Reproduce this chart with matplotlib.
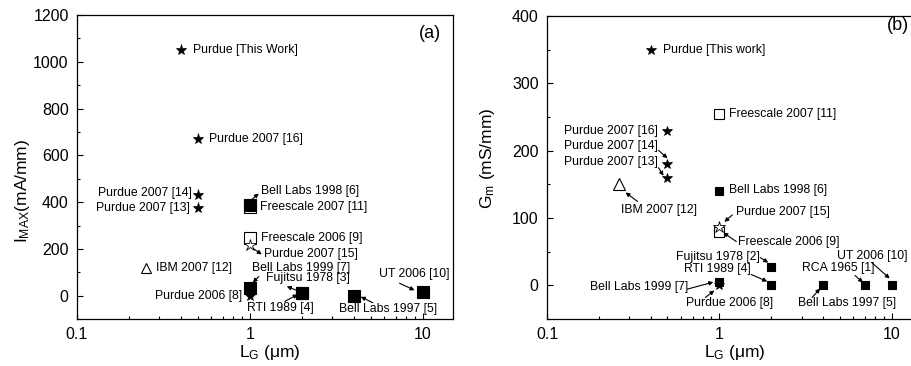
import matplotlib
matplotlib.use('Agg')
import matplotlib.pyplot as plt
from matplotlib.ticker import FixedLocator, FixedFormatter, MultipleLocator, LogLocator, NullFormatter
from matplotlib.transforms import offset_copy

plt.rcParams['font.family'] = ['Liberation Sans', 'DejaVu Sans']
plt.rcParams['mathtext.fontset'] = 'custom'
plt.rcParams['mathtext.rm'] = 'Liberation Sans'
plt.rcParams['mathtext.it'] = 'Liberation Sans:italic'

# ---- panel (a): I_MAX vs gate length ----
a_lg = [0.4, 0.5, 0.5, 0.5, 1, 1, 1, 1, 0.25, 1, 1, 2, 2, 4, 10]
a_imax = [1050, 670, 430, 375, 390, 378, 245, 215, 120, 35, 0, 10, 10, 0, 15]
a_labels = ['Purdue [This Work]', 'Purdue 2007 [16]', 'Purdue 2007 [14]', 'Purdue 2007 [13]',
            'Bell Labs 1998 [6]', 'Freescale 2007 [11]', 'Freescale 2006 [9]', 'Purdue 2007 [15]',
            'IBM 2007 [12]', 'Bell Labs 1999 [7]', 'Purdue 2006 [8]', 'Fujitsu 1978 [3]',
            'RTI 1989 [4]', 'Bell Labs 1997 [5]', 'UT 2006 [10]']
a_kind = ['star', 'star', 'star', 'star', 'sq', 'osq', 'osq', 'ostar', 'otri',
          'sq', 'star', 'sq', 'sq', 'sq', 'sq']

# ---- panel (b): Gm vs gate length ----
b_lg = [0.4, 1, 0.5, 0.5, 0.5, 0.26, 1, 1, 1, 2, 2, 1, 1, 4, 7, 10]
b_gm = [350, 255, 230, 180, 160, 150, 140, 87, 80, 28, 0, 5, 0, 0, 0, 0]
b_labels = ['Purdue [This work]', 'Freescale 2007 [11]', 'Purdue 2007 [16]', 'Purdue 2007 [14]',
            'Purdue 2007 [13]', 'IBM 2007 [12]', 'Bell Labs 1998 [6]', 'Purdue 2007 [15]',
            'Freescale 2006 [9]', 'Fujitsu 1978 [2]', 'RTI 1989 [4]', 'Bell Labs 1999 [7]',
            'Purdue 2006 [8]', 'Bell Labs 1997 [5]', 'RCA 1965 [1]', 'UT 2006 [10]']
b_kind = ['star', 'osq', 'star', 'star', 'star', 'otri', 'sq', 'ostar', 'osq',
          'sq', 'sq', 'sq', 'star', 'sq', 'sq', 'sq']

x_ticks = [0.1, 1, 10]
x_ticklabels = ['0.1', '1', '10']

# label layout in pixels: text dx, dy, ha, arrow tail, arrow head, head at text side
a_layout = [
    (12, 0, 'left', None, None, False),
    (11, 0, 'left', None, None, False),
    (-6, 2, 'right', None, None, False),
    (-8, 0, 'right', None, None, False),
    (11, 14, 'left', (9, 11), (2, 5), True),
    (10, 0, 'left', None, None, False),
    (11, 0, 'left', None, None, False),
    (14, -9, 'left', (12, -9), (2, -2), True),
    (10, 0, 'left', None, None, False),
    (51, 20, 'center', (9, 11), (3, 5), False),
    (-8, 0, 'right', None, None, False),
    (6, 15, 'center', (-15, 7), (-5, 3), True),
    (-21, -15, 'center', (-17, -8), (-4, -1), False),
    (34, -13, 'center', (19, -7), (7, -1), False),
    (-8, 18, 'center', (-23, 9), (-8, 2), False),
]
b_layout = [
    (12, 0, 'left', None, None, False),
    (10, 0, 'left', None, None, False),
    (-10, 0, 'right', None, None, False),
    (-10, 18, 'right', (-9, 14), (0, 6), False),
    (-10, 16, 'right', (-9, 10), (-4, 2), False),
    (40, -26, 'center', (19, -17), (7, -8), False),
    (10, 1, 'left', None, None, False),
    (17, 15, 'left', (13, 12), (5, 5), False),
    (19, -10, 'left', (17, -10), (4, -1), False),
    (-53, 10, 'center', (-11, 9), (-3, 4), False),
    (-54, 16, 'center', (-20, 11), (-4, 4), False),
    (-80, -5, 'center', (-32, -7), (-6, 0), False),
    (10, -18, 'center', (-14, -12), (-5, -5), False),
    (24, -18, 'center', (-11, -12), (-3, -3), False),
    (-27, 17, 'center', (-10, 10), (-2, 3), False),
    (-19, 29, 'center', (-20, 23), (-2, 7), False),
]

fig = plt.figure(figsize=(9.12, 3.66), dpi=100)
ax_a = fig.add_axes([0.0844, 0.128, 0.4123, 0.831])
ax_b = fig.add_axes([0.5998, 0.128, 0.4112, 0.828])


def draw_panel(ax, xs, ys, labels, kinds, layout, sq_ms, star_ms, tri_ms):
    styles = {
        'osq': dict(marker='s', ms=sq_ms + 0.5, mfc='white', mec='black', mew=0.8, zorder=3),
        'sq': dict(marker='s', ms=sq_ms, mfc='black', mec='black', mew=0.8, zorder=4),
        'otri': dict(marker='^', ms=tri_ms, mfc='white', mec='black', mew=0.8, zorder=3),
        'ostar': dict(marker='*', ms=star_ms + 1, mfc='white', mec='black', mew=0.6, zorder=5),
        'star': dict(marker='*', ms=star_ms, mfc='black', mec='black', mew=0.5, zorder=6),
    }
    for k in ['osq', 'sq', 'otri', 'ostar', 'star']:
        px = [x for x, kk in zip(xs, kinds) if kk == k]
        py = [y for y, kk in zip(ys, kinds) if kk == k]
        ax.plot(px, py, ls='none', **styles[k])
    for x, y, lab, (dx, dy, ha, tail, head, rev) in zip(xs, ys, labels, layout):
        ax.annotate(lab, xy=(x, y), xytext=(dx, dy), textcoords='offset pixels',
                    ha=ha, va='center', fontsize=8.8)
        if tail is not None:
            t_tr = offset_copy(ax.transData, fig=fig, x=tail[0], y=tail[1], units='dots')
            h_tr = offset_copy(ax.transData, fig=fig, x=head[0], y=head[1], units='dots')
            if rev:
                src, dst = h_tr, t_tr
            else:
                src, dst = t_tr, h_tr
            ax.annotate('', xy=(x, y), xycoords=dst, xytext=(x, y), textcoords=src,
                        arrowprops=dict(arrowstyle='-|>', lw=0.8, color='black',
                                        mutation_scale=6, shrinkA=0, shrinkB=0))
    ax.set_xscale('log')
    ax.set_xlim(0.1, 15)
    ax.xaxis.set_major_locator(FixedLocator(x_ticks))
    ax.xaxis.set_major_formatter(FixedFormatter(x_ticklabels))
    ax.xaxis.set_minor_locator(LogLocator(base=10, subs=range(2, 10)))
    ax.xaxis.set_minor_formatter(NullFormatter())
    ax.tick_params(which='both', direction='in', top=False, right=False, labelsize=11.5)
    ax.tick_params(which='major', length=4, width=0.8, pad=6)
    ax.tick_params(which='minor', length=2.2, width=0.8)
    for s in ax.spines.values():
        s.set_linewidth(0.9)


draw_panel(ax_a, a_lg, a_imax, a_labels, a_kind, a_layout, 8, 8, 6.5)
ax_a.set_ylim(-100, 1200)
ax_a.yaxis.set_major_locator(MultipleLocator(200))
ax_a.yaxis.set_minor_locator(MultipleLocator(100))
ax_a.set_ylabel(r'$\mathrm{I_{MAX}}$(mA/mm)', fontsize=12.5)
ax_a.yaxis.set_label_coords(-0.12, 0.42)
ax_a.set_xlabel(r'$\mathrm{L_G}$ (μm)', fontsize=12.5)
ax_a.xaxis.set_label_coords(0.513, -0.077)
ax_a.text(0.94, 0.94, '(a)', transform=ax_a.transAxes, ha='center', va='center', fontsize=13)

draw_panel(ax_b, b_lg, b_gm, b_labels, b_kind, b_layout, 6.2, 7.8, 8)
ax_b.set_ylim(-50, 400)
ax_b.yaxis.set_major_locator(MultipleLocator(100))
ax_b.yaxis.set_minor_locator(MultipleLocator(50))
ax_b.set_ylabel(r'$\mathrm{G_m}$ (mS/mm)', fontsize=12.5)
ax_b.yaxis.set_label_coords(-0.133, 0.53)
ax_b.set_xlabel(r'$\mathrm{L_G}$ (μm)', fontsize=12.5)
ax_b.xaxis.set_label_coords(0.50, -0.08)
ax_b.text(0.937, 0.97, '(b)', transform=ax_b.transAxes, ha='center', va='center', fontsize=13)

fig.savefig('out.png', dpi=100)
